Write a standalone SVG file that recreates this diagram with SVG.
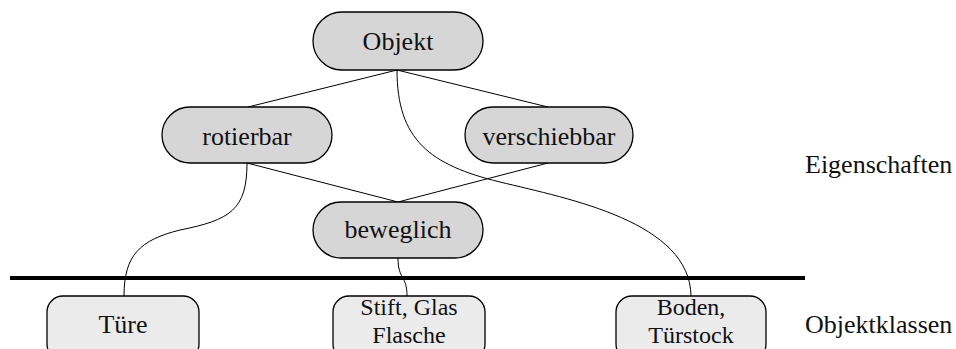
<svg xmlns="http://www.w3.org/2000/svg" width="956" height="349" viewBox="0 0 956 349">
<style>
.pill{fill:#d6d6d6;stroke:#000;stroke-width:1.3}
.box{fill:#ebebeb;stroke:#000;stroke-width:1.3}
.t{font-family:"Liberation Serif","Times New Roman",serif;font-size:26px;fill:#111}
.s{font-size:24px}
.c{text-anchor:middle}
.con{fill:none;stroke:#000;stroke-width:1}
</style>
<rect width="956" height="349" fill="#fff"/>
<g id="connectors">
<path class="con" d="M397,70 L248,107"/>
<path class="con" d="M397,70 L548,107"/>
<path class="con" d="M397,70 C397,140 430,165 500,182 C570,199 690,222 691,296"/>
<path class="con" d="M247,163 C247,210 230,220 180,230 C140,240 124,255 124,296"/>
<path class="con" d="M247,163 L398,202"/>
<path class="con" d="M548,163 L398,202"/>
<path class="con" d="M398,258 C398,280 407,275 407,296"/>
</g>
<line id="separator" x1="10" y1="278" x2="805" y2="278" stroke="#000" stroke-width="4"/>
<g id="objekt"><rect class="pill" x="313" y="12" width="170" height="58" rx="29"/><text class="t c" x="398" y="50">Objekt</text></g>
<g id="rotierbar"><rect class="pill" x="162" y="107" width="170" height="56" rx="28"/><text class="t c" x="247" y="145">rotierbar</text></g>
<g id="verschiebbar"><rect class="pill" x="465" y="107" width="168" height="56" rx="28"/><text class="t c" x="549" y="145">verschiebbar</text></g>
<g id="beweglich"><rect class="pill" x="313" y="202" width="170" height="56" rx="28"/><text class="t c" x="398" y="238">beweglich</text></g>
<g id="tuere"><rect class="box" x="47" y="296" width="152" height="64" rx="16"/><text class="t c" x="123" y="333">Türe</text></g>
<g id="stift"><rect class="box" x="333" y="296" width="152" height="64" rx="16"/><text class="t s c" x="409" y="315">Stift, Glas</text><text class="t s c" x="409" y="343">Flasche</text></g>
<g id="boden"><rect class="box" x="616" y="296" width="150" height="64" rx="16"/><text class="t s c" x="691" y="315">Boden,</text><text class="t s c" x="691" y="343">Türstock</text></g>
<g id="labels"><text class="t" x="805" y="173">Eigenschaften</text><text class="t" x="805" y="333">Objektklassen</text></g>
</svg>
